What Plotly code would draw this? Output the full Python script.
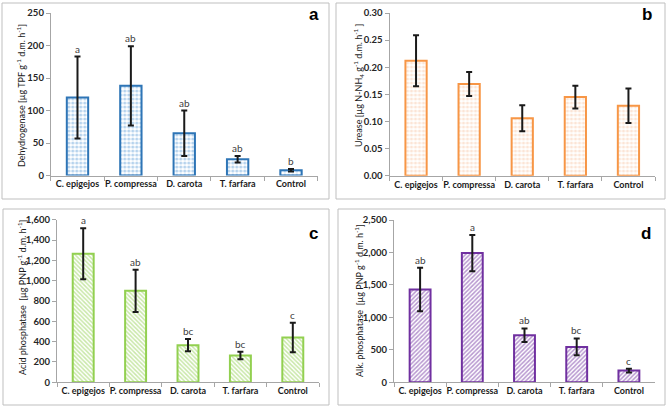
import plotly.graph_objects as go

W, H = 668, 408

categories = ["C. epigejos", "P. compressa", "D. carota", "T. farfara", "Control"]

dehydrogenase = [120, 138, 65, 25, 8]
dehydrogenase_err = [63, 61, 35, 5, 2]
dehydrogenase_letters = ["a", "ab", "ab", "ab", "b"]

urease = [0.212, 0.169, 0.106, 0.145, 0.129]
urease_err = [0.047, 0.022, 0.024, 0.021, 0.032]

acid_phosphatase = [1265, 900, 365, 263, 440]
acid_phosphatase_err = [250, 208, 60, 37, 145]
acid_phosphatase_letters = ["a", "ab", "bc", "bc", "c"]

alk_phosphatase = [1430, 1990, 725, 545, 180]
alk_phosphatase_err = [335, 280, 105, 130, 30]
alk_phosphatase_letters = ["ab", "a", "ab", "bc", "c"]

FONT = "Lato, Liberation Sans"


def xd(a, b):
    return [a / W, b / W]


def yd(top, bottom):
    return [1 - bottom / H, 1 - top / H]


panels = [
    dict(vals=dehydrogenase, err=dehydrogenase_err, letters=dehydrogenase_letters,
         xdom=(50.8, 317.7), ydom=(13, 175.5), yrange=250, dtick=50, fmt="d",
         shape=".", fg="#6FA8DC", line="#2E75B6", psize=4, sol=0.5,
         title="Dehydrogenase [µg TPF g<sup>-1</sup> d.m. h<sup>-1</sup>]",
         tx=21, ty=96, tag="a", tagx=314, tagy=15,
         box=(2, 329, 3, 199)),
    dict(vals=urease, err=urease_err, letters=None,
         xdom=(389.5, 655), ydom=(13, 175.7), yrange=0.30, dtick=0.05, fmt=".2f",
         shape=".", fg="#F8CBAD", line="#F79646", psize=4, sol=0.5,
         title="Urease [µg N-NH<sub>4</sub> g<sup>-1</sup> d.m. h<sup>-1</sup> ]",
         tx=358, ty=85, tag="b", tagx=647, tagy=15,
         box=(336, 665, 3, 199)),
    dict(vals=acid_phosphatase, err=acid_phosphatase_err, letters=acid_phosphatase_letters,
         xdom=(57, 319), ydom=(219.7, 382.3), yrange=1600, dtick=200, fmt=",d",
         shape="\\", fg="#92D050", line="#92D050", psize=3, sol=0.5,
         title="Acid phosphatase  [µg PNP g<sup>-1</sup> d.m. h<sup>-1</sup>]",
         tx=22, ty=298, tag="c", tagx=313, tagy=233,
         box=(3, 329, 209, 405)),
    dict(vals=alk_phosphatase, err=alk_phosphatase_err, letters=alk_phosphatase_letters,
         xdom=(394, 655), ydom=(220, 382.3), yrange=2500, dtick=500, fmt=",d",
         shape="/", fg="#7030A0", line="#7030A0", psize=3, sol=0.5,
         title="Alk. phosphatase  [µg PNP g<sup>-1</sup> d.m. h<sup>-1</sup>]",
         tx=359, ty=301, tag="d", tagx=646, tagy=234,
         box=(338, 665, 209, 405)),
]

fig = go.Figure()
annotations = []
shapes = []
layout = {}

for i, p in enumerate(panels, start=1):
    sfx = "" if i == 1 else str(i)
    xa, ya = "x" + sfx, "y" + sfx
    fig.add_trace(go.Bar(
        x=categories, y=p["vals"], xaxis=xa, yaxis=ya,
        marker=dict(color="white",
                    line=dict(color=p["line"], width=2),
                    pattern=dict(shape=p["shape"], fgcolor=p["fg"], bgcolor="white",
                                 size=p["psize"], solidity=p["sol"])),
        error_y=dict(type="data", array=p["err"], color="#1a1a1a", thickness=2, width=3),
        showlegend=False, hoverinfo="skip",
    ))
    layout["xaxis" + sfx] = dict(
        domain=xd(*p["xdom"]), anchor=ya, showline=True, linecolor="#a6a6a6", linewidth=1,
        ticks="outside", tickson="boundaries", ticklen=4, tickcolor="#a6a6a6",
        tickangle=0, automargin=False,
        tickfont=dict(family=FONT, size=9, color="#1a1a1a", weight="bold"),
        showgrid=False, fixedrange=True,
    )
    layout["yaxis" + sfx] = dict(
        domain=yd(*p["ydom"]), anchor=xa, range=[0, p["yrange"]], dtick=p["dtick"],
        tickformat=p["fmt"], showline=True, linecolor="#a6a6a6", linewidth=1,
        ticks="outside", ticklen=4, tickcolor="#a6a6a6", automargin=False,
        tickfont=dict(family=FONT, size=9.5, color="#262626", weight="bold"),
        showgrid=False, zeroline=False, fixedrange=True,
    )
    layout["bargap"] = 0.6
    annotations.append(dict(
        text=p["title"], x=p["tx"] / W, y=1 - p["ty"] / H, xref="paper", yref="paper",
        textangle=-90, showarrow=False, xanchor="center", yanchor="middle",
        font=dict(family=FONT, size=9, color="#1a1a1a"),
    ))
    annotations.append(dict(
        text="<b>" + p["tag"] + "</b>", x=p["tagx"] / W, y=1 - p["tagy"] / H,
        xref="paper", yref="paper", showarrow=False, xanchor="center", yanchor="middle",
        font=dict(family="Liberation Sans", size=17, color="#000000"),
    ))
    if p["letters"]:
        for c, v, e, l in zip(categories, p["vals"], p["err"], p["letters"]):
            annotations.append(dict(
                text=l, x=c, y=v + e, xref=xa, yref=ya, showarrow=False,
                yanchor="bottom", yshift=0,
                font=dict(family=FONT, size=10, color="#404040"),
            ))
    x0, x1, y0, y1 = p["box"]
    shapes.append(dict(type="rect", xref="paper", yref="paper",
                       x0=x0 / W, x1=x1 / W, y0=1 - y1 / H, y1=1 - y0 / H,
                       line=dict(color="#bfbfbf", width=1), fillcolor="rgba(0,0,0,0)"))

fig.update_layout(
    width=W, height=H, margin=dict(l=0, r=0, t=0, b=0),
    paper_bgcolor="white", plot_bgcolor="white",
    annotations=annotations, shapes=shapes, **layout,
)

fig.write_html("out.html", config={"displayModeBar": False},
               post_script="document.body.style.margin='0';")
